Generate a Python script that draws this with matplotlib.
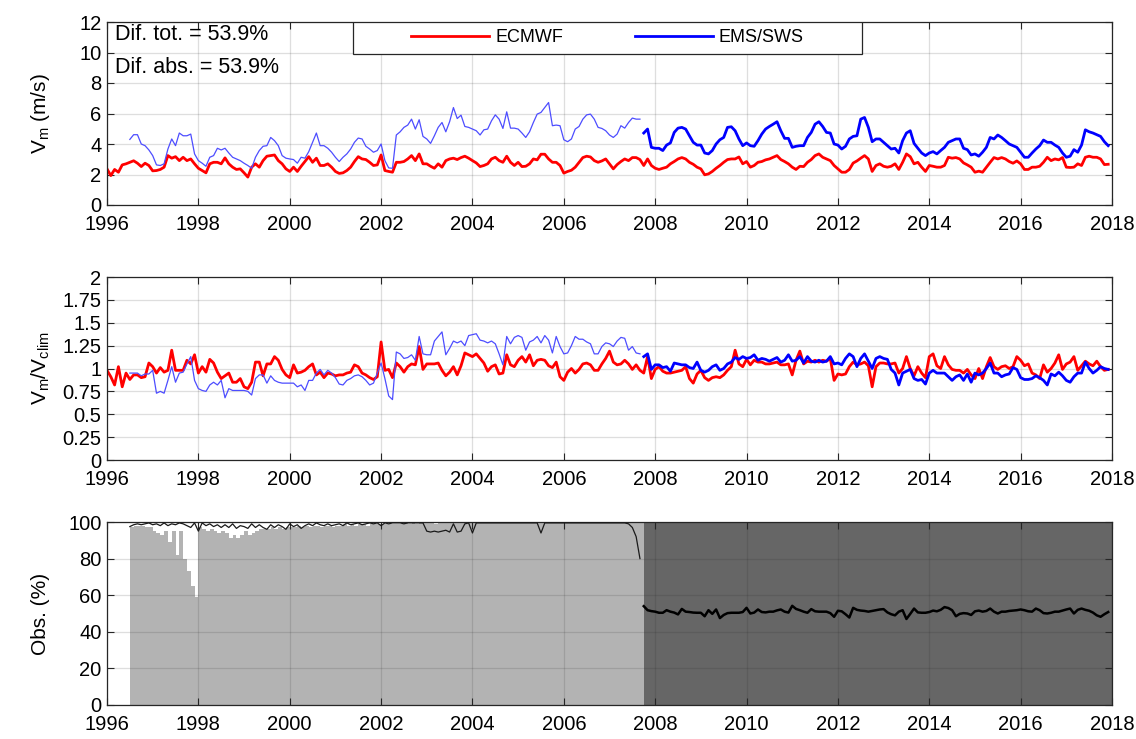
import numpy as np
import matplotlib
matplotlib.use('Agg')
import matplotlib.pyplot as plt
from matplotlib.patches import Rectangle

plt.rcParams['font.family'] = ['Liberation Sans', 'DejaVu Sans']
plt.rcParams['mathtext.fontset'] = 'custom'
plt.rcParams['mathtext.rm'] = 'Liberation Sans'
plt.rcParams['mathtext.it'] = 'Liberation Sans:italic'

nan = np.nan
start_year = 1996
n_months = 264            # Jan 1996 .. Dec 2017
early_first = 6           # Jul 1996 : first EMS/SWS month (early network)
late_first = 141          # Oct 2007 : first month of late network

# ---------------- data (monthly) ----------------
ecmwf_vm = [
    2.37, 1.93, 2.33, 2.15, 2.63, 2.70, 2.80, 2.90, 2.74, 2.52, 2.74, 2.59,
    2.24, 2.26, 2.33, 2.48, 3.24, 3.07, 3.17, 2.91, 3.13, 2.91, 3.02, 2.70,
    2.41, 2.26, 2.11, 2.70, 2.80, 2.80, 2.70, 3.09, 2.70, 2.48, 2.33, 2.37,
    2.11, 1.83, 2.48, 2.70, 2.48, 2.91, 3.20, 3.24, 3.28, 2.91, 2.70, 2.37,
    2.20, 2.48, 2.20, 2.54, 2.85, 3.17, 2.80, 3.07, 2.59, 2.59, 2.70, 2.48,
    2.20, 2.07, 2.11, 2.26, 2.48, 2.85, 3.17, 3.02, 2.98, 2.80, 2.59, 2.63,
    3.28, 2.26, 2.20, 2.15, 2.80, 2.80, 2.85, 3.02, 3.24, 2.91, 3.35, 2.70,
    2.70, 2.54, 2.41, 2.70, 2.48, 2.91, 3.02, 3.07, 2.98, 3.11, 3.20, 3.07,
    2.91, 2.76, 2.52, 2.59, 2.70, 3.02, 3.13, 2.91, 2.80, 3.20, 2.80, 2.59,
    2.80, 2.52, 2.54, 2.70, 3.02, 2.96, 3.33, 3.33, 3.02, 2.80, 2.80, 2.59,
    2.09, 2.20, 2.28, 2.48, 2.80, 3.11, 3.20, 3.15, 2.91, 2.80, 2.89, 3.02,
    2.70, 2.37, 2.65, 2.85, 3.02, 2.91, 3.11, 3.11, 2.98, 2.59, 3.02, 2.59,
    2.41, 2.33, 2.41, 2.48, 2.70, 2.85, 3.02, 3.11, 3.02, 2.80, 2.67, 2.48,
    2.37, 1.98, 2.04, 2.20, 2.41, 2.59, 2.80, 2.98, 3.02, 3.02, 3.15, 2.70,
    2.85, 2.48, 2.59, 2.80, 2.85, 2.96, 3.02, 3.13, 3.24, 2.98, 2.85, 2.70,
    2.48, 2.33, 2.54, 2.52, 2.80, 2.98, 3.24, 3.35, 3.13, 3.02, 2.91, 2.59,
    2.37, 2.15, 2.15, 2.33, 2.75, 2.89, 3.07, 3.24, 3.02, 2.20, 2.59, 2.70,
    2.54, 2.48, 2.54, 2.70, 2.33, 2.80, 3.35, 3.17, 2.70, 2.80, 2.48, 2.20,
    2.59, 2.54, 2.48, 2.48, 2.59, 3.13, 3.07, 3.11, 3.02, 2.76, 2.63, 2.48,
    2.15, 2.22, 2.15, 2.48, 2.80, 3.11, 3.02, 3.11, 3.02, 2.85, 2.74, 2.89,
    2.70, 2.33, 2.33, 2.48, 2.48, 2.54, 2.80, 3.13, 2.91, 3.02, 2.96, 3.11,
    2.48, 2.46, 2.48, 2.70, 2.59, 3.13, 3.20, 3.13, 3.13, 3.02, 2.65, 2.67,
]

ems_vm_early = [
    4.30, 4.61, 4.61, 4.00, 3.89, 3.61,
    3.24, 2.63, 2.59, 2.70, 3.67, 4.33, 3.89, 4.72, 4.54, 4.54, 4.65, 3.35,
    2.91, 2.74, 2.54, 3.13, 3.24, 3.72, 3.61, 3.72, 3.41, 3.13, 3.02, 2.91,
    2.74, 2.59, 2.41, 3.13, 3.57, 3.85, 3.89, 4.43, 4.22, 3.89, 3.24, 3.07,
    3.02, 2.98, 2.74, 3.13, 3.07, 3.50, 4.11, 4.72, 3.89, 3.89, 3.72, 3.46,
    3.13, 2.85, 3.13, 3.35, 3.67, 4.11, 4.39, 4.33, 3.85, 3.67, 3.46, 3.57,
    4.00, 2.91, 2.43, 2.41, 4.59, 4.80, 5.09, 5.24, 5.63, 4.98, 5.59, 4.50,
    4.33, 4.04, 4.54, 5.09, 5.41, 4.80, 5.46, 6.39, 5.67, 5.89, 5.15, 5.09,
    4.98, 4.87, 4.59, 4.93, 4.98, 5.52, 5.91, 5.63, 5.02, 6.11, 5.04, 5.04,
    4.98, 4.72, 4.43, 4.80, 5.41, 5.96, 6.07, 6.39, 6.72, 5.20, 5.24, 5.20,
    4.28, 4.15, 4.33, 4.98, 5.15, 5.63, 5.91, 5.96, 5.63, 5.09, 5.02, 4.87,
    4.59, 4.43, 4.65, 5.20, 5.04, 5.41, 5.70, 5.63, 5.63,
]

ems_vm_late = [
    4.72, 4.98, 3.78,
    3.72, 3.72, 3.57, 3.93, 4.07, 4.76, 5.04, 5.09, 4.98, 4.54, 4.11, 3.93,
    3.93, 3.41, 3.35, 3.57, 4.00, 4.28, 4.43, 5.09, 5.13, 4.87, 4.33, 3.89,
    4.07, 3.89, 3.85, 4.22, 4.65, 4.98, 5.15, 5.30, 5.46, 4.87, 4.37, 4.37,
    3.78, 3.85, 3.89, 3.89, 4.43, 4.76, 5.30, 5.46, 5.15, 4.76, 4.72, 4.00,
    3.93, 3.67, 3.85, 4.33, 4.50, 4.54, 5.63, 5.74, 5.09, 4.15, 4.33, 4.33,
    4.11, 3.89, 3.67, 3.72, 3.41, 4.22, 4.72, 4.87, 4.04, 3.72, 3.41, 3.24,
    3.41, 3.50, 3.35, 3.57, 3.78, 4.11, 4.22, 4.33, 4.33, 3.72, 3.63, 3.28,
    3.35, 3.20, 3.46, 3.78, 4.43, 4.33, 4.59, 4.43, 4.22, 4.00, 3.89, 3.78,
    3.46, 3.13, 3.13, 3.41, 3.67, 3.89, 4.26, 4.11, 4.11, 3.93, 3.78, 3.41,
    3.13, 3.20, 3.63, 3.46, 3.93, 4.93, 4.80, 4.72, 4.61, 4.50, 4.15, 3.89,
]

ecmwf_ratio = [
    0.98, 0.91, 0.82, 1.02, 0.80, 0.95, 0.88, 0.93, 0.93, 0.90, 0.91, 1.06,
    1.02, 0.95, 1.01, 0.96, 0.98, 1.20, 0.98, 0.98, 0.98, 1.09, 1.05, 1.15,
    0.95, 1.02, 0.96, 1.10, 1.06, 0.96, 0.89, 0.92, 0.95, 0.85, 0.85, 0.89,
    0.80, 0.78, 0.85, 1.07, 1.07, 0.92, 1.05, 1.05, 1.13, 1.09, 0.99, 0.93,
    0.90, 1.04, 0.95, 0.96, 0.98, 1.02, 1.05, 0.93, 0.96, 0.90, 0.95, 0.94,
    0.92, 0.93, 0.93, 0.95, 0.96, 1.04, 1.02, 0.95, 0.93, 0.90, 0.88, 0.91,
    1.29, 0.98, 0.99, 0.90, 1.06, 1.02, 0.96, 1.02, 1.05, 1.04, 1.24, 0.99,
    1.05, 1.05, 1.05, 1.06, 0.98, 0.92, 0.96, 1.02, 0.93, 1.03, 1.17, 1.15,
    1.13, 1.16, 1.11, 1.06, 0.97, 1.02, 1.04, 0.94, 0.95, 1.15, 1.04, 1.02,
    1.09, 1.13, 1.07, 1.15, 1.03, 1.09, 1.10, 1.09, 1.03, 1.01, 1.07, 0.91,
    0.87, 0.96, 1.00, 0.95, 0.99, 1.05, 1.06, 1.04, 0.98, 0.98, 1.05, 1.11,
    1.19, 1.07, 1.04, 1.05, 1.09, 1.05, 0.99, 1.04, 0.98, 0.95, 1.13, 0.89,
    0.99, 1.02, 0.97, 0.95, 0.95, 0.96, 0.97, 0.98, 1.02, 0.89, 0.84, 0.94,
    0.98, 0.90, 0.87, 0.90, 0.91, 0.90, 0.93, 0.98, 1.02, 1.20, 1.05, 1.02,
    1.10, 1.04, 1.09, 1.07, 1.07, 1.05, 1.05, 1.06, 1.07, 1.04, 1.04, 1.05,
    0.93, 1.09, 1.19, 1.05, 1.08, 1.07, 1.09, 1.07, 1.09, 1.08, 1.11, 0.87,
    0.94, 0.93, 0.94, 1.02, 1.07, 1.04, 1.05, 1.07, 1.03, 0.80, 1.02, 1.06,
    1.06, 1.05, 1.05, 1.06, 0.95, 1.00, 1.13, 1.00, 0.92, 1.02, 0.95, 0.90,
    1.13, 1.16, 1.03, 1.00, 1.13, 1.04, 0.99, 0.98, 0.98, 0.95, 0.99, 0.93,
    0.89, 1.00, 0.89, 1.02, 1.12, 1.02, 0.99, 1.02, 1.03, 1.00, 1.02, 1.13,
    1.09, 1.03, 1.05, 0.95, 0.93, 0.89, 1.04, 0.96, 1.00, 1.06, 1.15, 0.99,
    1.05, 1.07, 1.13, 0.98, 1.03, 1.08, 1.05, 1.03, 1.08, 1.02, 0.98, 0.99,
]

ems_ratio_early = [
    0.95, 0.95, 0.95, 0.92, 0.94, 0.94,
    0.98, 0.73, 0.75, 0.73, 0.87, 1.02, 0.85, 0.95, 0.96, 1.05, 1.13, 0.87,
    0.78, 0.76, 0.75, 0.82, 0.85, 0.82, 0.87, 0.68, 0.78, 0.76, 0.76, 0.76,
    0.76, 0.75, 0.71, 0.89, 0.93, 0.93, 0.84, 0.92, 0.87, 0.85, 0.84, 0.84,
    0.84, 0.84, 0.80, 0.82, 0.76, 0.87, 0.87, 0.95, 0.99, 0.93, 0.98, 0.95,
    0.90, 0.83, 0.82, 0.87, 0.89, 0.92, 0.93, 0.91, 0.87, 0.82, 0.84, 0.95,
    1.06, 0.89, 0.70, 0.66, 1.18, 1.16, 1.11, 1.12, 1.15, 1.09, 1.35, 1.16,
    1.15, 1.15, 1.30, 1.35, 1.40, 1.15, 1.22, 1.30, 1.28, 1.30, 1.25, 1.36,
    1.37, 1.38, 1.31, 1.30, 1.28, 1.30, 1.27, 1.16, 1.04, 1.35, 1.27, 1.34,
    1.36, 1.34, 1.20, 1.29, 1.31, 1.35, 1.28, 1.36, 1.31, 1.17, 1.35, 1.24,
    1.16, 1.17, 1.25, 1.35, 1.32, 1.32, 1.29, 1.27, 1.16, 1.16, 1.24, 1.28,
    1.27, 1.24, 1.30, 1.34, 1.33, 1.20, 1.24, 1.17, 1.16,
]

ems_ratio_late = [
    1.13, 1.16, 0.99,
    1.04, 1.04, 1.01, 1.02, 0.97, 1.06, 1.05, 1.04, 1.04, 1.01, 1.00, 1.07,
    0.98, 0.96, 0.98, 1.02, 1.04, 0.98, 1.00, 1.05, 1.07, 1.12, 1.10, 1.13,
    1.11, 1.12, 1.15, 1.09, 1.11, 1.10, 1.08, 1.10, 1.12, 1.07, 1.09, 1.15,
    1.08, 1.09, 1.13, 1.06, 1.13, 1.08, 1.07, 1.09, 1.07, 1.08, 1.13, 1.05,
    1.06, 1.04, 1.11, 1.16, 1.13, 1.02, 1.11, 1.16, 1.08, 1.00, 1.11, 1.13,
    1.11, 1.10, 0.99, 0.95, 0.82, 0.95, 0.97, 0.99, 0.89, 0.87, 0.88, 0.83,
    0.95, 0.98, 0.95, 0.95, 0.95, 0.91, 0.87, 0.91, 0.93, 0.87, 0.94, 0.85,
    0.95, 0.93, 0.95, 1.00, 1.06, 0.95, 0.95, 0.91, 0.93, 0.94, 1.01, 0.99,
    0.90, 0.88, 0.88, 0.89, 0.92, 0.90, 0.87, 0.82, 0.94, 0.92, 0.96, 0.92,
    0.87, 0.85, 0.91, 0.95, 0.95, 1.07, 1.00, 0.95, 0.98, 1.02, 1.00, 0.99,
]

obs_bar_early = [
    97.5, 98, 98, 98, 97, 97,
    95, 94, 93, 95, 89, 95, 82, 95, 80, 73, 65, 59,
    97, 96, 95, 96, 95, 94, 95, 94, 91, 93, 91, 93,
    95, 93, 94, 95, 96, 96, 96, 97, 96, 97, 96, 97,
    97, 97, 98, 97, 98, 97, 98, 98, 97, 98, 98, 97,
    98, 98, 99, 98, 99, 98, 99, 99, 98, 99, 99, 99,
    99, 99, 99, 99, 99, 99, 100, 99, 100, 99, 100, 100,
    100, 100, 99, 100, 100, 100, 100, 100, 100, 100, 100, 100,
    100, 100, 100, 100, 100, 100, 100, 100, 100, 100, 100, 100,
    100, 100, 100, 100, 100, 100, 100, 100, 100, 100, 100, 100,
    100, 100, 100, 100, 100, 100, 100, 100, 100, 100, 100, 100,
    100, 100, 100, 100, 100, 100, 100, 100, 100,
]

obs_bar_late = [100] * 123

obs_line_early = [
    97.5, 98.5, 99, 98.5, 99, 99.5,
    98.5, 99, 98, 99.5, 98, 99, 98.5, 99.5, 99, 98, 97, 99.5,
    95, 99.5, 98, 99, 97.5, 98.5, 97, 98.5, 97, 99, 96.5, 98,
    97.5, 96.5, 99, 97, 98.5, 97, 96, 98.5, 97, 98.5, 97.5, 96,
    99, 97.5, 98.5, 96.5, 98, 99, 98, 99.5, 98.5, 98, 99, 98,
    98.5, 99, 98, 99.5, 98.5, 99, 99.5, 98.5, 99, 99.5, 99, 99.5,
    98, 99.5, 99, 99.5, 99.5, 99.5, 99, 99.5, 99.5, 99.5, 99.5, 99.5,
    95, 94.5, 95, 94.5, 95, 95.5, 94.5, 99, 94.5, 95, 99, 99.5,
    94, 99.5, 99.5, 99.5, 99.5, 99.5, 99.5, 99.5, 99.5, 99.5, 99.5, 99.5,
    99.5, 99.5, 99.5, 99.5, 99.5, 99.5, 94, 99.5, 99.5, 99.5, 99.5, 99.5,
    99.5, 99.5, 99.5, 99.5, 99.5, 99.5, 99.5, 99.5, 99.5, 99.5, 99.5, 99.5,
    99.5, 99.5, 99.5, 99.5, 99.5, 99, 97, 92, 80,
]

obs_line_late = [
    54, 51.8, 51.3,
    51, 50.4, 50.4, 51.8, 51, 50.5, 49.5, 52.5, 51, 50.8, 50.5, 50.4,
    50.4, 48.5, 51.8, 49.8, 52.2, 47.5, 49.2, 50.2, 50.4, 50.4, 50.4, 50.8,
    53.1, 50, 50.5, 52.2, 50.8, 50.6, 51, 51, 51.7, 52.2, 51, 50.5,
    54.2, 52.5, 51.8, 51, 50.4, 52.4, 51.2, 51, 51, 51, 50.2, 48.2,
    51.5, 51.2, 49.6, 47.8, 53.1, 52, 51.6, 51.4, 51, 51.4, 51.8, 52.2,
    52.4, 50.6, 49.6, 49, 51, 51.8, 47, 49.8, 52.7, 50.6, 50.4, 50.4,
    50.8, 51.6, 51.2, 52, 53.5, 53, 51.8, 48.5, 49.8, 50.2, 50, 49.2,
    51.2, 51.6, 51, 51.4, 52.7, 51, 50, 51, 51, 51.4, 51.6, 51.8,
    52.2, 51.8, 51.2, 51, 52.7, 51.8, 50.2, 50, 50.4, 51, 51, 51.6,
    52.2, 52.7, 50, 52, 52.7, 52, 51.5, 50.5, 49, 48.2, 49.6, 50.8,
]

dif_tot = 53.9
dif_abs = 53.9
series_names = ['ECMWF', 'EMS/SWS']

# ---------------- time axes ----------------
t = start_year + np.arange(n_months) / 12.0
t_early = t[early_first:late_first]
t_late = t[late_first:]

RED = (1, 0, 0)
BLUE = (0, 0, 1)
BLUE_THIN = (0.3, 0.3, 1.0)
AXC = '#262626'

fig = plt.figure(figsize=(11.36, 7.39), dpi=100)
W, H = 1136, 739
LEFT, RIGHT = 107, 1112

def make_ax(top_px, bottom_px):
    return fig.add_axes([LEFT / W, 1 - bottom_px / H, (RIGHT - LEFT) / W, (bottom_px - top_px) / H])

ax1 = make_ax(22, 205)
ax2 = make_ax(277, 460)
ax3 = make_ax(522, 705)

for ax in (ax1, ax2, ax3):
    ax.set_xlim(1996, 2018)
    ax.set_xticks(np.arange(1996, 2019, 2))
    ax.tick_params(direction='in', top=True, right=True, length=5, width=0.8,
                   labelsize=14.5, colors=AXC, labelcolor='black')
    ax.tick_params(axis='x', pad=7)
    ax.tick_params(axis='y', pad=4)
    for s in ax.spines.values():
        s.set_color(AXC)
        s.set_linewidth(0.9)

# ---- panel 1 ----
ax1.grid(True, color=AXC, alpha=0.15, lw=0.9)
ax1.set_axisbelow(True)
l1, = ax1.plot(t, ecmwf_vm, color=RED, lw=2.0)
ax1.plot(t_early, ems_vm_early, color=BLUE_THIN, lw=0.9)
l2, = ax1.plot(t_late, ems_vm_late, color=BLUE, lw=2.0)
ax1.set_ylim(0, 12)
ax1.set_yticks(np.arange(0, 13, 2))
ax1.set_ylabel(r'V$_\mathrm{m}$ (m/s)', fontsize=15)
ax1.yaxis.set_label_coords(-0.0547, 0.5)
ax1.text(0.008, 0.929, f'Dif. tot. = {dif_tot}%', transform=ax1.transAxes,
         fontsize=15.5, va='center', ha='left')
ax1.text(0.008, 0.754, f'Dif. abs. = {dif_abs}%', transform=ax1.transAxes,
         fontsize=15.5, va='center', ha='left')

# legend box (frame drawn separately, entries centred inside)
bx0 = (353 - LEFT) / (RIGHT - LEFT)
bx1 = (862 - LEFT) / (RIGHT - LEFT)
by0 = (205 - 54) / (205 - 22)
ax1.add_patch(Rectangle((bx0, by0), bx1 - bx0, 1 - by0, transform=ax1.transAxes,
                        facecolor='white', edgecolor=AXC, lw=0.9, zorder=5))
fs_leg = 13
px = fs_leg * 100 / 72
leg = ax1.legend([l1, l2], series_names, loc='center',
                 bbox_to_anchor=((bx0 + bx1) / 2, (by0 + 1) / 2),
                 ncol=2, fontsize=fs_leg, frameon=False,
                 handlelength=78 / px, handletextpad=6 / px,
                 columnspacing=72 / px, borderpad=0, borderaxespad=0)
leg.set_zorder(6)

# ---- panel 2 ----
ax2.grid(True, color=AXC, alpha=0.15, lw=0.9)
ax2.set_axisbelow(True)
ax2.plot(t, ecmwf_ratio, color=RED, lw=2.0)
ax2.plot(t_early, ems_ratio_early, color=BLUE_THIN, lw=0.9)
ax2.plot(t_late, ems_ratio_late, color=BLUE, lw=2.0)
ax2.set_ylim(0, 2)
yt = np.arange(0, 2.01, 0.25)
ax2.set_yticks(yt)
ax2.set_yticklabels([f'{v:g}' for v in yt])
ax2.set_ylabel(r'V$_\mathrm{m}$/V$_\mathrm{clim}$', fontsize=15)
ax2.yaxis.set_label_coords(-0.0547, 0.5)

# ---- panel 3 ----
ax3.bar(t_early, obs_bar_early, width=1 / 12, align='edge', color='#b3b3b3', lw=0, zorder=1)
ax3.bar(t_late, obs_bar_late, width=1 / 12, align='edge', color='#666666', lw=0, zorder=1)
ax3.plot(t_early, obs_line_early, color='#1a1a1a', lw=0.9, zorder=3)
ax3.plot(t_late, obs_line_late, color='black', lw=1.8, zorder=3)
ax3.grid(True, color=AXC, alpha=0.15, lw=0.9, zorder=2)
ax3.set_axisbelow(False)
ax3.set_ylim(0, 100)
ax3.set_yticks(np.arange(0, 101, 20))
ax3.set_ylabel('Obs. (%)', fontsize=15)
ax3.yaxis.set_label_coords(-0.0567, 0.5)

fig.savefig('out.png', dpi=100)
